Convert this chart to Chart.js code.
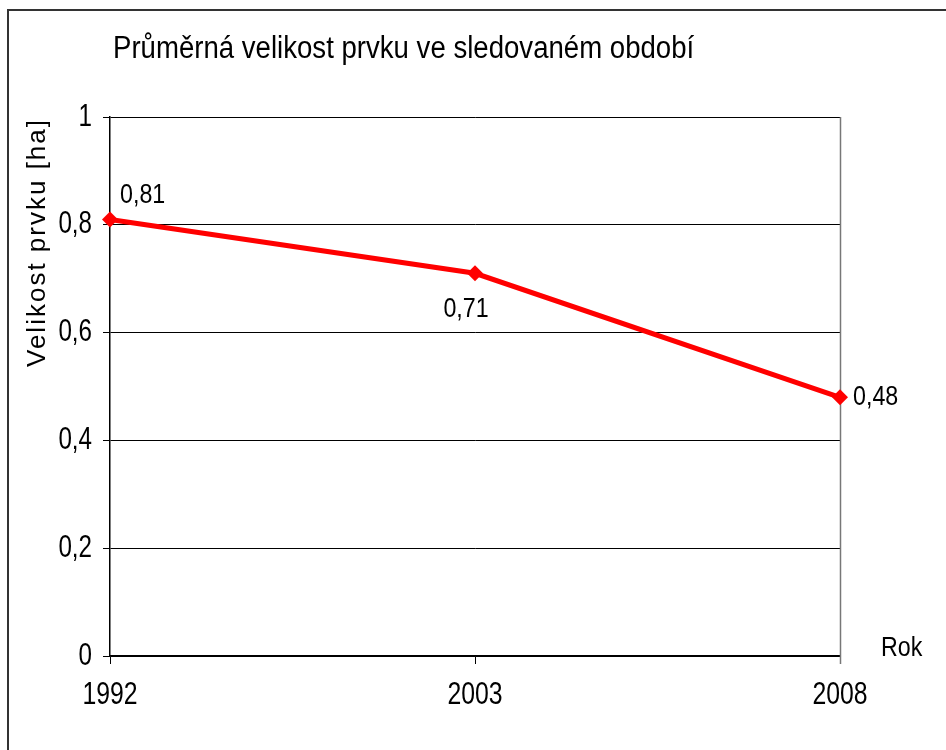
<!DOCTYPE html>
<html>
<head>
<meta charset="utf-8">
<script src="https://cdn.jsdelivr.net/npm/chart.js@4/dist/chart.umd.min.js"></script>
<style>
  html, body { margin: 0; padding: 0; background: #fff; overflow: hidden; }
  #wrap { width: 946px; height: 750px; position: relative; }
</style>
</head>
<body>
<div id="wrap"><canvas id="chart" width="946" height="750"></canvas></div>
<script>
// Data
const years = ['1992', '2003', '2008'];
const avgSize = [0.81, 0.71, 0.48];
const yTicks = [0, 0.2, 0.4, 0.6, 0.8, 1];

const chartTitle = 'Průměrná velikost prvku ve sledovaném období';
const yTitle = 'Velikost prvku [ha]';
const xTitle = 'Rok';

const FONT = "'Liberation Sans', Arial, sans-serif";

function fmt(v) {
  return Number(v.toFixed(2)).toString().replace('.', ',');
}

// draws condensed text (the original uses a narrow Arial)
function narrowText(ctx, str, x, y, size, sx, align) {
  ctx.save();
  ctx.font = size + 'px ' + FONT;
  ctx.textAlign = align;
  ctx.textBaseline = 'middle';
  ctx.translate(x, y);
  ctx.scale(sx, 1);
  ctx.fillText(str, 0, 0);
  ctx.restore();
}

const decorPlugin = {
  id: 'decor',
  beforeDraw(chart) {
    const ctx = chart.ctx;
    ctx.save();
    ctx.fillStyle = '#fff';
    ctx.fillRect(0, 0, chart.width, chart.height);
    // outer frame
    ctx.strokeStyle = '#333';
    ctx.lineWidth = 2;
    ctx.beginPath();
    ctx.moveTo(chart.width + 5, 10);
    ctx.lineTo(8, 10);
    ctx.lineTo(8, chart.height + 5);
    ctx.stroke();
    ctx.restore();
  },
  beforeDatasetsDraw(chart) {
    const ctx = chart.ctx;
    const a = chart.chartArea;
    ctx.save();
    ctx.strokeStyle = '#777';
    ctx.lineWidth = 1.5;
    ctx.beginPath();
    ctx.moveTo(a.right + 0.5, a.top);
    ctx.lineTo(a.right + 0.5, a.bottom + 8);
    ctx.stroke();
    ctx.restore();
  },
  afterDatasetsDraw(chart) {
    const ctx = chart.ctx;
    const a = chart.chartArea;
    const xs = chart.scales.x;
    const ys = chart.scales.y;
    const pts = chart.getDatasetMeta(0).data;
    ctx.save();
    ctx.fillStyle = '#000';

    // title
    ctx.save();
    ctx.font = '31px ' + FONT;
    ctx.textAlign = 'left';
    ctx.textBaseline = 'alphabetic';
    ctx.translate(a.left + 3, 58);
    ctx.scale(0.89, 1);
    ctx.fillText(chartTitle, 0, 0);
    ctx.restore();

    // y tick labels
    yTicks.forEach(v => {
      narrowText(ctx, fmt(v), a.left - 18, ys.getPixelForValue(v), 31, 0.78, 'right');
    });
    // x tick labels
    years.forEach((lab, i) => {
      narrowText(ctx, lab, xs.getPixelForValue(i), a.bottom + 39, 31, 0.8, 'center');
    });

    // y axis title (rotated, spaced letters)
    ctx.save();
    ctx.font = '26px ' + FONT;
    ctx.letterSpacing = '2px';
    ctx.textAlign = 'right';
    ctx.textBaseline = 'middle';
    ctx.translate(38, a.top + 1);
    ctx.rotate(-Math.PI / 2);
    ctx.fillText(yTitle, 0, 0);
    ctx.restore();

    // value labels
    narrowText(ctx, fmt(avgSize[0]), pts[0].x + 10, pts[0].y - 24, 28, 0.83, 'left');
    narrowText(ctx, fmt(avgSize[1]), pts[1].x - 9, pts[1].y + 36, 28, 0.83, 'center');
    narrowText(ctx, fmt(avgSize[2]), pts[2].x + 13, pts[2].y, 28, 0.83, 'left');

    // x axis caption
    narrowText(ctx, xTitle, a.right + 41, a.bottom - 8, 28, 0.83, 'left');
    ctx.restore();
  }
};

new Chart(document.getElementById('chart'), {
  type: 'line',
  data: {
    labels: years,
    datasets: [{
      data: avgSize,
      borderColor: '#ff0000',
      backgroundColor: '#ff0000',
      borderWidth: 5,
      pointStyle: 'rectRot',
      pointRadius: 8,
      pointBorderWidth: 0,
      tension: 0,
      fill: false
    }]
  },
  options: {
    responsive: false,
    animation: false,
    layout: { padding: { left: 0, right: 106, top: 117, bottom: 0 } },
    plugins: {
      legend: { display: false },
      tooltip: { enabled: false },
      title: { display: false }
    },
    scales: {
      x: {
        offset: false,
        afterFit(scale) { scale.height = 94; },
        grid: { drawOnChartArea: false, drawTicks: true, tickLength: 8, color: '#000' },
        border: { display: true, color: '#000', width: 1.5 },
        ticks: { display: false }
      },
      y: {
        min: 0,
        max: 1,
        afterFit(scale) { scale.width = 110; },
        afterBuildTicks(scale) { scale.ticks = yTicks.map(v => ({ value: v })); },
        grid: { color: '#000', lineWidth: 1, tickLength: 7 },
        border: { display: true, color: '#000', width: 1.5 },
        ticks: { display: false }
      }
    }
  },
  plugins: [decorPlugin]
});
</script>
</body>
</html>
